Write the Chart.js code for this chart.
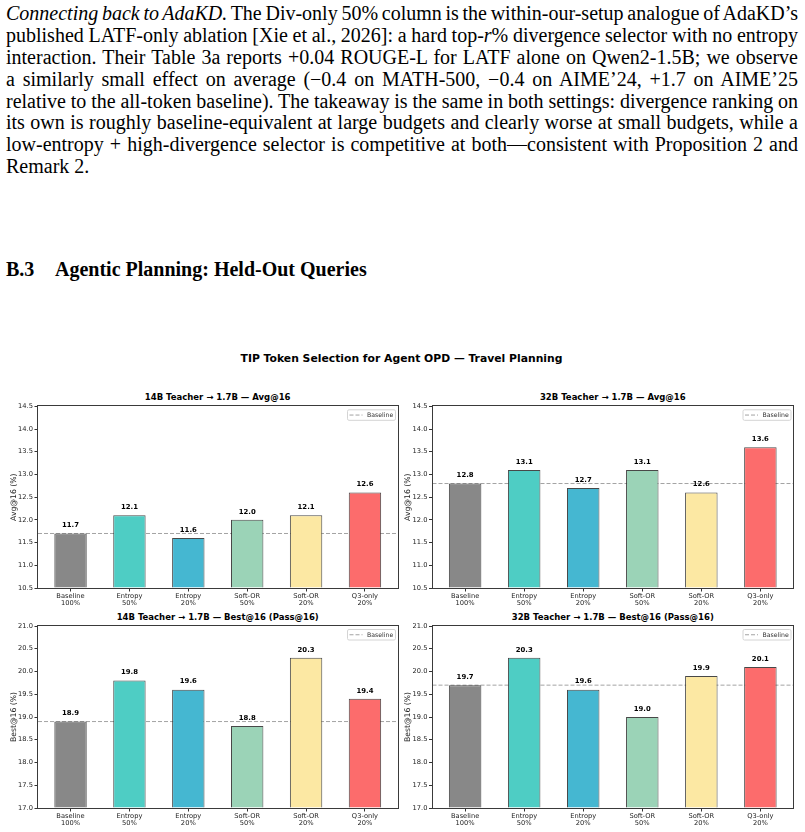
<!DOCTYPE html>
<html><head><meta charset="utf-8">
<script src="https://cdn.jsdelivr.net/npm/chart.js@4.4.1/dist/chart.umd.min.js"></script>
<style>
html,body{margin:0;padding:0;background:#fff;}
body{width:805px;height:832px;position:relative;overflow:hidden;}
#para{position:absolute;left:6px;top:3px;width:792px;font-family:"Liberation Serif","Times New Roman",serif;font-size:20px;line-height:21.9px;color:#000;}
#para .ln{white-space:nowrap;height:21.9px;}
#heading{position:absolute;left:6px;top:258.5px;width:500px;height:22px;font-family:"Liberation Serif",serif;font-weight:bold;font-size:20px;line-height:21.9px;white-space:nowrap;color:#000;}
#heading span{position:absolute;top:0;}
.ctext{position:absolute;font-family:"DejaVu Sans";font-weight:bold;white-space:nowrap;line-height:1;transform:translate(-50%,-50%);color:#000;}
canvas{position:absolute;}
</style>
</head>
<body>
<div id="para">
<div class="ln j"><span><i>Connecting back to AdaKD.</i> The Div-only 50% column is the within-our-setup analogue of AdaKD’s</span></div>
<div class="ln j"><span>published LATF-only ablation [Xie et al., 2026]: a hard top-<i>r</i>% divergence selector with no entropy</span></div>
<div class="ln j"><span>interaction. Their Table 3a reports +0.04 ROUGE-L for LATF alone on Qwen2-1.5B; we observe</span></div>
<div class="ln j"><span>a similarly small effect on average (−0.4 on MATH-500, −0.4 on AIME’24, +1.7 on AIME’25</span></div>
<div class="ln j"><span>relative to the all-token baseline). The takeaway is the same in both settings: divergence ranking on</span></div>
<div class="ln j"><span>its own is roughly baseline-equivalent at large budgets and clearly worse at small budgets, while a</span></div>
<div class="ln j"><span>low-entropy + high-divergence selector is competitive at both—consistent with Proposition 2 and</span></div>
<div class="ln"><span>Remark 2.</span></div>
</div>
<div id="heading"><span style="left:0">B.3</span><span style="left:49px">Agentic Planning: Held-Out Queries</span></div>

<div id="suptitle" class="ctext" style="left:401.5px;top:359.3px;font-size:10.8px;"></div>
<div id="t0" class="ctext" style="left:217.7px;top:396.8px;font-size:8.5px;"></div>
<div id="t1" class="ctext" style="left:612.8px;top:396.8px;font-size:8.5px;"></div>
<div id="t2" class="ctext" style="left:217.7px;top:616.8px;font-size:8.5px;"></div>
<div id="t3" class="ctext" style="left:612.8px;top:616.8px;font-size:8.5px;"></div>

<canvas id="c0" width="400" height="220" style="left:0px;top:390px;"></canvas>
<canvas id="c1" width="405" height="220" style="left:400px;top:390px;"></canvas>
<canvas id="c2" width="400" height="222" style="left:0px;top:610px;"></canvas>
<canvas id="c3" width="405" height="222" style="left:400px;top:610px;"></canvas>

<script>
// ---------- data ----------
const suptitle = 'TIP Token Selection for Agent OPD — Travel Planning';
const categoryNames = ['Baseline', 'Entropy', 'Entropy', 'Soft-OR', 'Soft-OR', 'Q3-only'];
const budgets = ['100%', '50%', '20%', '50%', '20%', '20%'];
const avg14B = [11.7, 12.1, 11.6, 12.0, 12.1, 12.6];
const avg32B = [12.8, 13.1, 12.7, 13.1, 12.6, 13.6];
const best14B = [18.9, 19.8, 19.6, 18.8, 20.3, 19.4];
const best32B = [19.7, 20.3, 19.6, 19.0, 19.9, 20.1];
const avgTicks = [10.5, 11.0, 11.5, 12.0, 12.5, 13.0, 13.5, 14.0, 14.5];
const bestTicks = [17.0, 17.5, 18.0, 18.5, 19.0, 19.5, 20.0, 20.5, 21.0];
const panelTitles = ['14B Teacher → 1.7B — Avg@16', '32B Teacher → 1.7B — Avg@16',
                     '14B Teacher → 1.7B — Best@16 (Pass@16)', '32B Teacher → 1.7B — Best@16 (Pass@16)'];
const yTitles = ['Avg@16 (%)', 'Avg@16 (%)', 'Best@16 (%)', 'Best@16 (%)'];
const baselineLabel = 'Baseline';

// ---------- styles ----------
const barColors = ['#888888', '#4ECDC4', '#45B7D1', '#9BD3B7', '#FCE8A3', '#FC6C6C'];
const XMIN = -0.5525, XMAX = 5.5525;

// ---------- text justification ----------
document.querySelectorAll('#para .ln.j').forEach(el => {
  const span = el.firstElementChild;
  const w = span.getBoundingClientRect().width;
  const n = (span.textContent.match(/ /g) || []).length;
  if (n > 0) el.style.wordSpacing = ((792 - w) / n) + 'px';
});
document.getElementById('suptitle').textContent = suptitle;
panelTitles.forEach((t, i) => document.getElementById('t' + i).textContent = t);

// ---------- plugins ----------
const frame = {
  id: 'frame',
  afterDatasetsDraw(chart) {
    const {left, top, right, bottom} = chart.chartArea;
    const ctx = chart.ctx;
    ctx.save();
    ctx.strokeStyle = '#3a3a3a';
    ctx.lineWidth = 1;
    ctx.strokeRect(Math.round(left) - 0.5, Math.round(top) - 0.5, Math.round(right) - Math.round(left) + 1, Math.round(bottom) - Math.round(top) + 1);
    ctx.restore();
  }
};
const valueLabels = {
  id: 'valueLabels',
  afterDatasetsDraw(chart) {
    const ctx = chart.ctx;
    const meta = chart.getDatasetMeta(0);
    const ys = chart.scales.y;
    const data = chart.data.datasets[0].data;
    ctx.save();
    ctx.font = 'bold 6.9px "DejaVu Sans"';
    ctx.fillStyle = '#000';
    ctx.textAlign = 'center';
    ctx.textBaseline = 'bottom';
    meta.data.forEach((bar, i) => {
      const v = data[i].y;
      ctx.fillText(v.toFixed(1), bar.x, ys.getPixelForValue(v + 0.1));
    });
    ctx.restore();
  }
};
const legendBox = {
  id: 'legendBox',
  afterDraw(chart) {
    const ds = chart.data.datasets[1];
    const ctx = chart.ctx;
    const {right, top} = chart.chartArea;
    const w = 48, h = 10.5, x = right - 2 - w, y = top + 3.5;
    ctx.save();
    ctx.fillStyle = 'rgba(255,255,255,0.85)';
    ctx.strokeStyle = '#d4d4d4';
    ctx.lineWidth = 1;
    ctx.beginPath();
    ctx.roundRect(x, y, w, h, 1.5);
    ctx.fill();
    ctx.stroke();
    ctx.setLineDash(ds.borderDash);
    ctx.strokeStyle = ds.borderColor;
    ctx.beginPath();
    ctx.moveTo(x + 2, y + h / 2);
    ctx.lineTo(x + 15, y + h / 2);
    ctx.stroke();
    ctx.setLineDash([]);
    ctx.fillStyle = '#333';
    ctx.font = '6.2px "DejaVu Sans"';
    ctx.textAlign = 'left';
    ctx.textBaseline = 'middle';
    ctx.fillText(ds.label, x + 19.5, y + h / 2 + 0.3);
    ctx.restore();
  }
};

// ---------- panels ----------
const panels = [
  {id: 'c0', values: avg14B, ticks: avgTicks, yTitle: yTitles[0], axisW: 38, yTitlePad: 8.9, xH: 22, pad: {left: 0, right: 2.5, top: 16.3, bottom: 0}},
  {id: 'c1', values: avg32B, ticks: avgTicks, yTitle: yTitles[1], axisW: 32.5, yTitlePad: 3.7, xH: 22, pad: {left: 0, right: 12, top: 16.3, bottom: 0}},
  {id: 'c2', values: best14B, ticks: bestTicks, yTitle: yTitles[2], axisW: 38, yTitlePad: 8.9, xH: 24, pad: {left: 0, right: 2.5, top: 16, bottom: 0}},
  {id: 'c3', values: best32B, ticks: bestTicks, yTitle: yTitles[3], axisW: 32.5, yTitlePad: 3.7, xH: 24, pad: {left: 0, right: 12, top: 16, bottom: 0}},
];

const tickGrid = {display: true, drawOnChartArea: false, drawTicks: true, tickLength: 3.5, color: '#333', lineWidth: 1, offset: false};

panels.forEach(p => {
  new Chart(document.getElementById(p.id), {
    type: 'bar',
    data: {
      datasets: [
        {
          type: 'bar',
          label: 'scores',
          data: p.values.map((v, i) => ({x: i, y: v})),
          backgroundColor: barColors,
          borderColor: 'rgba(40,40,40,0.85)',
          borderWidth: 1,
          barPercentage: 0.55,
          categoryPercentage: 1,
          base: p.ticks[0],
          order: 1
        },
        {
          type: 'line',
          label: baselineLabel,
          data: [{x: XMIN, y: p.values[0]}, {x: XMAX, y: p.values[0]}],
          borderColor: '#a3a3a3',
          borderWidth: 1,
          borderDash: [4, 2],
          pointRadius: 0,
          fill: false,
          order: 2
        }
      ]
    },
    options: {
      responsive: false,
      animation: false,
      devicePixelRatio: 1,
      layout: {padding: p.pad},
      plugins: {legend: {display: false}, tooltip: {enabled: false}, title: {display: false}},
      scales: {
        x: {
          type: 'linear', min: XMIN, max: XMAX, offset: false,
          afterBuildTicks: s => { s.ticks = categoryNames.map((_, i) => ({value: i})); },
          afterFit: s => { s.height = p.xH; },
          ticks: {
            autoSkip: false, maxRotation: 0, minRotation: 0, padding: 0.5, color: '#222',
            font: {family: 'DejaVu Sans', size: 6.7, lineHeight: 1.15},
            callback: v => [categoryNames[v], budgets[v]]
          },
          grid: tickGrid,
          border: {display: false}
        },
        y: {
          type: 'linear', min: p.ticks[0], max: p.ticks[p.ticks.length - 1],
          afterBuildTicks: s => { s.ticks = p.ticks.map(v => ({value: v})); },
          afterFit: s => { s.width = p.axisW; },
          ticks: {padding: 1.5, color: '#222', font: {family: 'DejaVu Sans', size: 6.7}, callback: v => Number(v).toFixed(1)},
          grid: tickGrid,
          border: {display: false},
          title: {display: true, text: p.yTitle, color: '#222', font: {family: 'DejaVu Sans', size: 7.7}, padding: {top: p.yTitlePad, bottom: 0}}
        }
      }
    },
    plugins: [frame, valueLabels, legendBox]
  });
});
</script>
</body></html>
